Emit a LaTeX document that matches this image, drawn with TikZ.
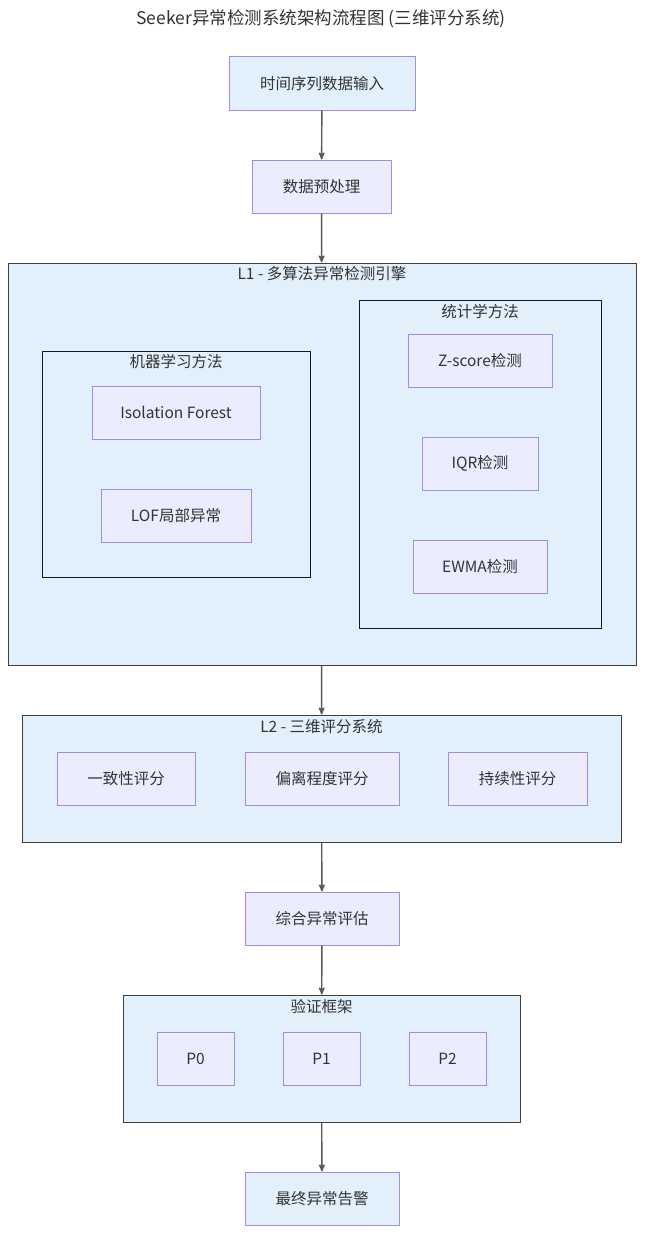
\documentclass[tikz,border=0pt]{standalone}
\usepackage{fontspec}
\setmainfont{Noto Sans CJK SC}
\usepackage{xcolor}
\usepackage{tikz}
\usetikzlibrary{arrows}
\definecolor{boxblue}{HTML}{E2F0FC}
\definecolor{boxlilac}{HTML}{ECECFF}
\definecolor{boxline}{HTML}{A68BE6}
\definecolor{textgray}{HTML}{333333}
\tikzset{
    tnode/.style = {align=center, inner sep=0pt, text centered, text=textgray, font=\fontsize{15.5}{18}\selectfont},
    proc_node/.style = {tnode, rectangle, draw=boxline, fill=boxlilac, line width=1pt, minimum height=53pt},
    io_node/.style = {proc_node, fill=boxblue},
    cluster/.style = {rectangle, draw=black!75, fill=boxblue, line width=1pt, inner sep=0pt},
    sub_cluster/.style = {cluster, draw=black!90},
    cluster_title/.style = {tnode},
    flow/.style = {->, >=stealth', draw=black!65, line width=1.4pt}
}
\begin{document}
\begin{tikzpicture}[x=1pt,y=-1pt]
    \useasboundingbox [fill=white] (0,0) rectangle (652,1247);
    \node [tnode, font=\fontsize{17.5}{20}\selectfont] (title) at (321,19) {Seeker异常检测系统架构流程图 (三维评分系统)};
    % input
    \node [io_node, minimum width=186pt] (ts_input) at (322,83.5) {时间序列数据输入};
    \node [proc_node, minimum width=139pt] (prep) at (321.5,186.5) {数据预处理};
    % L1 engine
    \node [cluster, minimum width=628pt, minimum height=402pt] (l1) at (322,464) {};
    \node [cluster_title] (l1_title) at (322,274) {L1 - 多算法异常检测引擎};
    \node [sub_cluster, minimum width=268pt, minimum height=226pt] (ml) at (176,464) {};
    \node [cluster_title] (ml_title) at (176,362) {机器学习方法};
    \node [proc_node, minimum width=168pt] (iforest) at (176,412.5) {Isolation Forest};
    \node [proc_node, minimum width=150pt] (lof) at (176,515.5) {LOF局部异常};
    \node [sub_cluster, minimum width=242pt, minimum height=328pt] (stat) at (480,464) {};
    \node [cluster_title] (stat_title) at (480,312) {统计学方法};
    \node [proc_node, minimum width=144pt] (zscore) at (480,361) {Z-score检测};
    \node [proc_node, minimum width=116pt] (iqr) at (480,463.5) {IQR检测};
    \node [proc_node, minimum width=134pt] (ewma) at (480,567) {EWMA检测};
    % L2 scoring
    \node [cluster, minimum width=599pt, minimum height=127pt] (l2) at (321.5,778.5) {};
    \node [cluster_title] (l2_title) at (321.5,727) {L2 - 三维评分系统};
    \node [proc_node, minimum width=138pt] (consist) at (126,778.5) {一致性评分};
    \node [proc_node, minimum width=154pt] (deviate) at (322,778.5) {偏离程度评分};
    \node [proc_node, minimum width=139pt] (persist) at (517.5,778.5) {持续性评分};
    \node [proc_node, minimum width=154pt] (combine) at (322,918.5) {综合异常评估};
    % validation
    \node [cluster, minimum width=397pt, minimum height=127pt] (verify) at (321.5,1058.5) {};
    \node [cluster_title] (verify_title) at (321.5,1007) {验证框架};
    \node [proc_node, minimum width=77pt] (p0) at (195.5,1058.5) {P0};
    \node [proc_node, minimum width=77pt] (p1) at (321.5,1058.5) {P1};
    \node [proc_node, minimum width=77pt] (p2) at (447.5,1058.5) {P2};
    \node [io_node, minimum width=154pt] (alert) at (322,1198.5) {最终异常告警};
    % flow
    \draw [flow] (ts_input) -- (prep);
    \draw [flow] (prep) -- (l1);
    \draw [flow] (l1) -- (l2);
    \draw [flow] (l2) -- (combine);
    \draw [flow] (combine) -- (verify);
    \draw [flow] (verify) -- (alert);
\end{tikzpicture}
\end{document}
